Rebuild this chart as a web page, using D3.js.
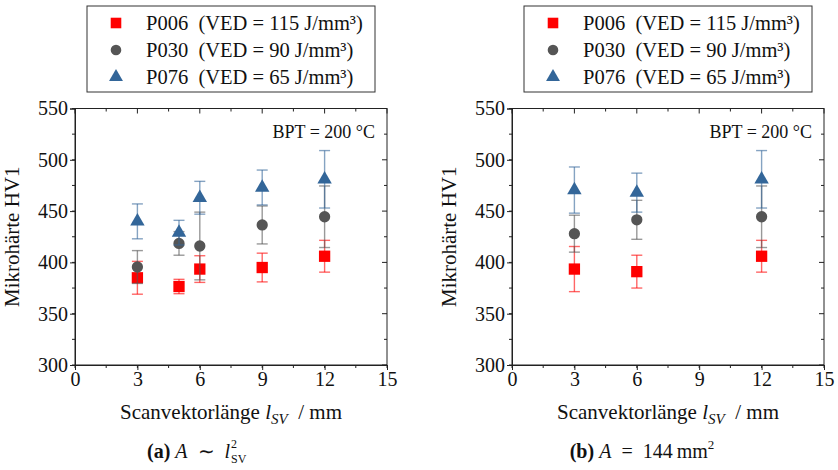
<!DOCTYPE html>
<html><head><meta charset="utf-8">
<script src="https://cdn.jsdelivr.net/npm/d3@7"></script>
<style>
body{margin:0;background:#fff;}
text{font-family:"Liberation Serif","Times New Roman",serif;fill:#111;}
</style></head>
<body><svg id="c" width="838" height="470"></svg>
<script>
// ---- data ----
const xLeft = [3, 5, 6, 9, 12];
const p006Left = [385, 376.5, 393.5, 395, 406];
const p006LeftErr = [16, 7, 13, 14, 15.5];
const p030Left = [395.5, 418.5, 416, 436.5, 444.5];
const p030LeftErr = [16, 11.5, 33, 18.5, 30];
const p076Left = [440, 429, 463, 473, 481];
const p076LeftErr = [17, 12, 16, 17, 28];

const xRight = [3, 6, 12];
const p006Right = [393.5, 391, 406];
const p006RightErr = [22, 16, 15.5];
const p030Right = [428, 441.5, 444.5];
const p030RightErr = [18, 19, 30];
const p076Right = [470.5, 468, 481];
const p076RightErr = [22.5, 19, 28];

const seriesNames = ["P006\u00a0\u00a0(VED = 115 J/mm³)", "P030\u00a0\u00a0(VED = 90 J/mm³)", "P076\u00a0\u00a0(VED = 65 J/mm³)"];
const xTicks = [0, 3, 6, 9, 12, 15];
const yTicks = [300, 350, 400, 450, 500, 550];
const annotation = "BPT = 200 °C";

// ---- styles ----
const colors = ["#ff0000", "#555555", "#336699"];
const symbols = [d3.symbolSquare, d3.symbolCircle, d3.symbolTriangle];
const symSizes = [128, 100, 90];
const legSizes = [112, 88, 84];

const svg = d3.select("#c");

function panel(ox, xs, vals, errs, caption) {
  const x = d3.scaleLinear().domain([0, 15]).range([ox, ox + 312]);
  const y = d3.scaleLinear().domain([300, 550]).range([365, 108.5]);
  const g = svg.append("g");

  // frame
  g.append("rect").attr("x", x(0)).attr("y", y(550)).attr("width", x(15) - x(0)).attr("height", y(300) - y(550))
    .attr("fill", "none").attr("stroke", "#222").attr("stroke-width", 1);

  const minorX = d3.range(0, 15.01, 1.5);
  const minorY = d3.range(300, 550.01, 25);
  // bottom axis
  const bx = g.append("g").attr("transform", `translate(0,${y(300)})`)
    .call(d3.axisBottom(x).tickValues(xTicks).tickSize(5).tickPadding(2).tickFormat(d3.format("d")));
  bx.select(".domain").attr("stroke", "#222");
  bx.selectAll("text").attr("font-size", 20).attr("fill", "#111").style("font-family", "Liberation Serif");
  bx.selectAll("line").attr("stroke", "#222");
  g.append("g").selectAll("line").data(minorX).join("line")
    .attr("x1", d => x(d)).attr("x2", d => x(d)).attr("y1", y(300)).attr("y2", y(300) + 3).attr("stroke", "#222");
  // left axis
  const ly = g.append("g").attr("transform", `translate(${x(0)},0)`)
    .call(d3.axisLeft(y).tickValues(yTicks).tickSize(5).tickPadding(2).tickFormat(d3.format("d")));
  ly.select(".domain").attr("stroke", "#222");
  ly.selectAll("text").attr("font-size", 20).attr("fill", "#111").style("font-family", "Liberation Serif");
  ly.selectAll("line").attr("stroke", "#222");
  g.append("g").selectAll("line").data(minorY).join("line")
    .attr("x1", x(0) - 3).attr("x2", x(0)).attr("y1", d => y(d)).attr("y2", d => y(d)).attr("stroke", "#222");
  // top inward ticks
  g.append("g").selectAll("line").data(minorX).join("line")
    .attr("x1", d => x(d)).attr("x2", d => x(d)).attr("y1", y(550)).attr("y2", d => y(550) + (d % 3 === 0 ? 5 : 3)).attr("stroke", "#222");
  // right inward ticks
  g.append("g").selectAll("line").data(minorY).join("line")
    .attr("x1", d => x(15) - (d % 50 === 0 ? 5 : 3)).attr("x2", x(15)).attr("y1", d => y(d)).attr("y2", d => y(d)).attr("stroke", "#222");

  // annotation
  g.append("text").attr("x", x(15) - 12).attr("y", y(550) + 29).attr("text-anchor", "end").attr("font-size", 18).text(annotation);

  // y title
  g.append("text").attr("transform", `translate(${ox - 56},${(y(300) + y(550)) / 2}) rotate(-90)`)
    .attr("text-anchor", "middle").attr("font-size", 21).text("Mikrohärte HV1");

  // x title
  const xt = g.append("text").attr("x", (x(0) + x(15)) / 2).attr("y", 419).attr("text-anchor", "middle").attr("font-size", 21);
  xt.append("tspan").text("Scanvektorlänge ");
  xt.append("tspan").attr("font-style", "italic").text("l");
  xt.append("tspan").attr("font-style", "italic").attr("font-size", 15).attr("dy", 5).text("SV");
  xt.append("tspan").attr("dy", -5).text("\u00a0 / mm");

  // caption
  caption(g, x);

  // series
  vals.forEach((vs, si) => {
    const es = errs[si];
    const sg = g.append("g");
    const eg = sg.append("g").attr("stroke", colors[si]).attr("stroke-opacity", 0.6).attr("stroke-width", 1.4);
    xs.forEach((xv, i) => {
      const cx = x(xv);
      eg.append("line").attr("x1", cx).attr("x2", cx).attr("y1", y(vs[i] - es[i])).attr("y2", y(vs[i] + es[i]));
      eg.append("line").attr("x1", cx - 5.5).attr("x2", cx + 5.5).attr("y1", y(vs[i] - es[i])).attr("y2", y(vs[i] - es[i]));
      eg.append("line").attr("x1", cx - 5.5).attr("x2", cx + 5.5).attr("y1", y(vs[i] + es[i])).attr("y2", y(vs[i] + es[i]));
    });
    sg.selectAll("path").data(vs).join("path")
      .attr("d", d3.symbol().type(symbols[si]).size(symSizes[si]))
      .attr("transform", (d, i) => `translate(${x(xs[i])},${y(d)})`)
      .attr("fill", colors[si]);
  });

  // legend
  const lx = ox + 12;
  const lg = g.append("g");
  lg.append("rect").attr("x", lx).attr("y", 6).attr("width", 288).attr("height", 86).attr("fill", "#fff").attr("stroke", "#333");
  seriesNames.forEach((n, i) => {
    const yy = 23 + i * 27;
    lg.append("path").attr("d", d3.symbol().type(symbols[i]).size(legSizes[i]))
      .attr("transform", `translate(${lx + 29},${yy})`).attr("fill", colors[i]);
    lg.append("text").attr("x", lx + 59).attr("y", yy + 7).attr("font-size", 20.5).text(n);
  });
}

panel(75, xLeft, [p006Left, p030Left, p076Left], [p006LeftErr, p030LeftErr, p076LeftErr], (g, x) => {
  const t = g.append("text").attr("x", 147).attr("y", 458).attr("font-size", 20);
  t.append("tspan").attr("font-weight", "bold").text("(a)");
  t.append("tspan").text(" ");
  t.append("tspan").attr("font-style", "italic").text("A");
  t.append("tspan").text("\u2002∼\u2002");
  t.append("tspan").attr("font-style", "italic").text("l");
  t.append("tspan").attr("font-size", 12).attr("dx", 1).attr("dy", -10).text("2");
  t.append("tspan").attr("font-size", 12).attr("dx", -6).attr("dy", 15).text("SV");
});

panel(512, xRight, [p006Right, p030Right, p076Right], [p006RightErr, p030RightErr, p076RightErr], (g, x) => {
  const t = g.append("text").attr("x", 642).attr("y", 458).attr("text-anchor", "middle").attr("font-size", 20);
  t.append("tspan").attr("font-weight", "bold").text("(b)");
  t.append("tspan").text(" ");
  t.append("tspan").attr("font-style", "italic").text("A");
  t.append("tspan").text("\u2002=\u2002144\u2009mm");
  t.append("tspan").attr("font-size", 13).attr("dy", -9).text("2");
});
</script></body></html>
